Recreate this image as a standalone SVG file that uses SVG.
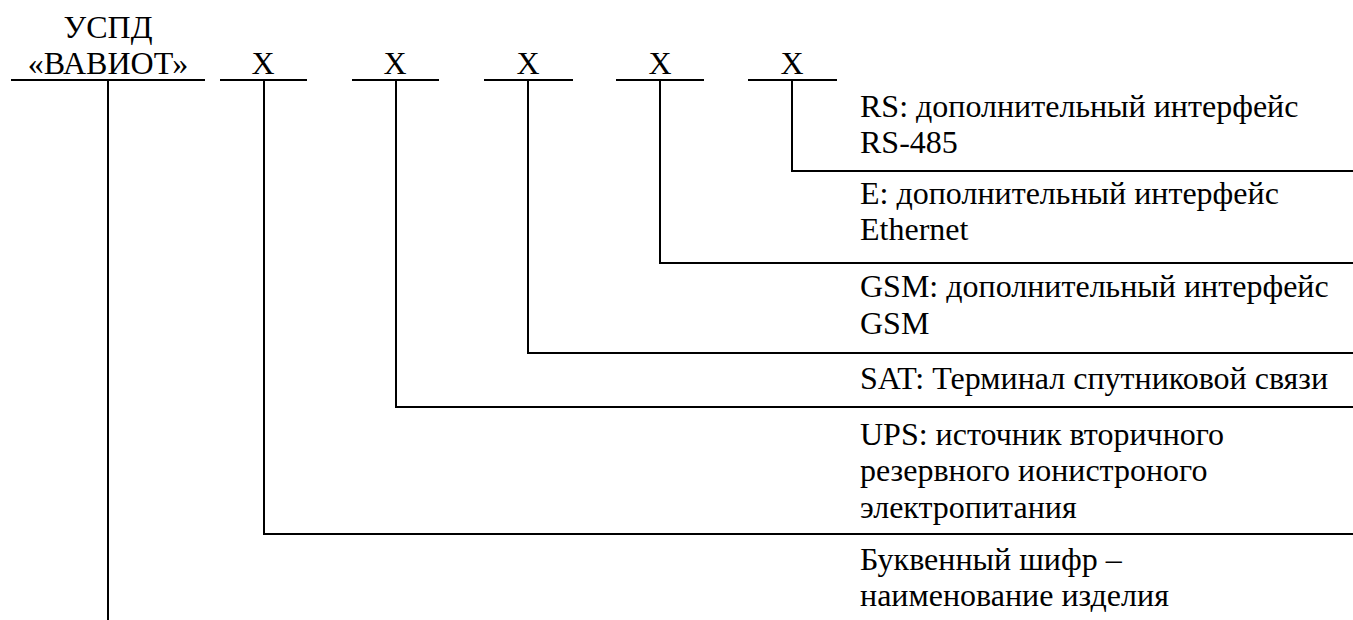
<svg xmlns="http://www.w3.org/2000/svg" width="1353" height="620" viewBox="0 0 1353 620">
<style>
.c{text-anchor:middle}
line,polyline{stroke:#000;stroke-width:2;fill:none}
</style>
<rect width="1353" height="620" fill="#fff"/>
<g font-family="Liberation Serif, Times New Roman, DejaVu Serif, serif" font-size="32" fill="#000">
<g id="head">
<text class="c" x="108" y="38">УСПД</text>
<text class="c" x="108" y="74">«ВАВИОТ»</text>
<line x1="11" y1="80" x2="205" y2="80"/>
</g>
<g id="x1"><text class="c" x="263" y="74">X</text><line x1="220" y1="80" x2="307" y2="80"/></g>
<g id="x2"><text class="c" x="395" y="74">X</text><line x1="352" y1="80" x2="439" y2="80"/></g>
<g id="x3"><text class="c" x="528" y="74">X</text><line x1="484" y1="80" x2="573" y2="80"/></g>
<g id="x4"><text class="c" x="660" y="74">X</text><line x1="616" y1="80" x2="704" y2="80"/></g>
<g id="x5"><text class="c" x="792" y="74">X</text><line x1="748" y1="80" x2="837" y2="80"/></g>
<g id="rs"><text x="860" y="117">RS: дополнительный интерфейс</text><text x="860" y="153">RS-485</text></g>
<g id="e"><text x="860" y="204">E: дополнительный интерфейс</text><text x="860" y="240">Ethernet</text></g>
<g id="gsm"><text x="860" y="297">GSM: дополнительный интерфейс</text><text x="860" y="334">GSM</text></g>
<g id="sat"><text x="860" y="389">SAT: Терминал спутниковой связи</text></g>
<g id="ups"><text x="860" y="445">UPS: источник вторичного</text><text x="860" y="481">резервного ионистроного</text><text x="860" y="518">электропитания</text></g>
<g id="name"><text x="860" y="570">Буквенный шифр –</text><text x="860" y="606">наименование изделия</text></g>
</g>
<g id="connectors">
<line x1="108" y1="80" x2="108" y2="620"/>
<polyline points="264,80 264,534 1353,534"/>
<polyline points="396,80 396,407 1353,407"/>
<polyline points="528,80 528,353 1353,353"/>
<polyline points="660,80 660,263 1353,263"/>
<polyline points="792,80 792,171 1353,171"/>
</g>
</svg>
